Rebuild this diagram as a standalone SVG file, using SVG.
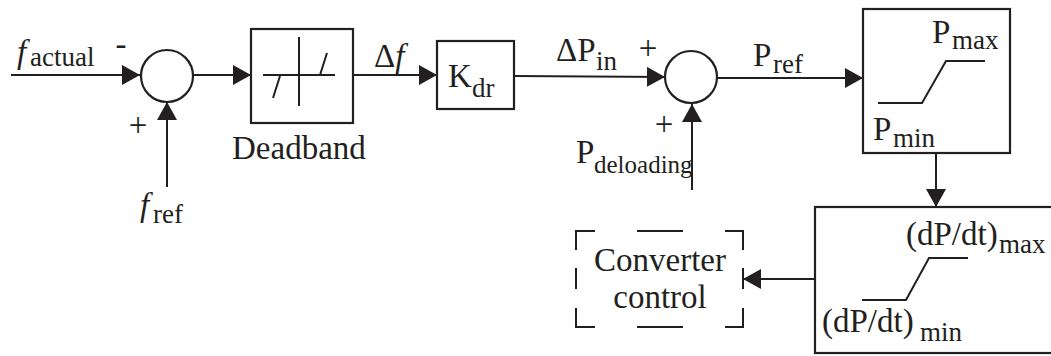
<svg xmlns="http://www.w3.org/2000/svg" width="1051" height="356" viewBox="0 0 1051 356">
<style>
.ln{stroke:#231f20;stroke-width:2;fill:none}
.bx{stroke:#231f20;stroke-width:2.2;fill:#fff}
.t{font-family:"Liberation Serif","Times New Roman",serif;font-size:33px;fill:#231f20}
.s{font-size:27px}
.i{font-style:italic}
</style>
<defs>
<marker id="ah" markerUnits="userSpaceOnUse" markerWidth="19" markerHeight="21" refX="18" refY="10" orient="auto">
<path d="M0,0 L18,10 L0,20 z" fill="#231f20"/>
</marker>
</defs>
<rect width="1051" height="356" fill="#fff"/>
<g id="connectors">
<line class="ln" x1="11" y1="75" x2="140" y2="75" marker-end="url(#ah)"/>
<line class="ln" x1="193" y1="75" x2="251" y2="75" marker-end="url(#ah)"/>
<line class="ln" x1="167" y1="187" x2="167" y2="102" marker-end="url(#ah)"/>
<line class="ln" x1="353" y1="75" x2="437" y2="75" marker-end="url(#ah)"/>
<line class="ln" x1="514" y1="76" x2="665" y2="77" marker-end="url(#ah)"/>
<line class="ln" x1="692" y1="190" x2="692" y2="104" marker-end="url(#ah)"/>
<line class="ln" x1="718" y1="78" x2="863" y2="78" marker-end="url(#ah)"/>
<line class="ln" x1="936" y1="153" x2="936" y2="207" marker-end="url(#ah)"/>
<line class="ln" x1="815" y1="279" x2="743" y2="279" marker-end="url(#ah)"/>
</g>
<g id="f_actual">
<text class="t" x="17" y="63"><tspan class="i">f</tspan></text>
<text class="t s" x="30" y="66">actual</text>
<text class="t" x="121" y="55" text-anchor="middle">-</text>
</g>
<g id="sum1">
<circle class="bx" cx="167" cy="76" r="26"/>
<text class="t" x="138" y="136" text-anchor="middle">+</text>
</g>
<g id="f_ref">
<text class="t" x="140" y="216"><tspan class="i">f</tspan></text>
<text class="t s" x="153" y="223">ref</text>
</g>
<g id="deadband">
<rect class="bx" x="251" y="29" width="102" height="94"/>
<line class="ln" x1="263" y1="75" x2="335" y2="75"/>
<line class="ln" x1="299" y1="37" x2="299" y2="106"/>
<line class="ln" x1="273" y1="98" x2="280" y2="76"/>
<line class="ln" x1="320" y1="75" x2="327" y2="53"/>
<text class="t" x="232" y="159">Deadband</text>
</g>
<g id="delta_f">
<text class="t" x="374" y="67">Δ<tspan class="i">f</tspan></text>
</g>
<g id="kdr">
<rect class="bx" x="437" y="41" width="77" height="68"/>
<text class="t" x="448" y="87">K</text>
<text class="t s" x="472" y="97">dr</text>
</g>
<g id="delta_pin">
<text class="t" x="556" y="61">ΔP</text>
<text class="t s" x="596" y="70">in</text>
<text class="t" x="648" y="59" text-anchor="middle">+</text>
</g>
<g id="sum2">
<circle class="bx" cx="691" cy="77" r="26"/>
<text class="t" x="664" y="135" text-anchor="middle">+</text>
</g>
<g id="p_deloading">
<text class="t" x="576" y="163">P</text>
<text class="t" x="594" y="173" style="font-size:25px">deloading</text>
</g>
<g id="p_ref">
<text class="t" x="753" y="66">P</text>
<text class="t s" x="773" y="73">ref</text>
</g>
<g id="limiter">
<rect class="bx" x="863" y="9" width="147" height="144"/>
<polyline class="ln" points="878,103 922,103 946,61 985,61"/>
<text class="t" x="932" y="43">P</text>
<text class="t s" x="952" y="49">max</text>
<text class="t" x="873" y="140">P</text>
<text class="t s" x="893" y="147">min</text>
</g>
<g id="rate_limiter">
<rect class="bx" x="815" y="207" width="250" height="146"/>
<polyline class="ln" points="862,300 906,300 929,258 968,258"/>
<text class="t" x="906" y="245">(dP/dt)</text>
<text class="t s" x="999" y="253">max</text>
<text class="t" x="822" y="332">(dP/dt)</text>
<text class="t s" x="920" y="341">min</text>
</g>
<g id="converter_control">
<path class="ln" d="M576,250 V231 H595 M637,231 H683 M725,231 H743 V250 M743,268 V289 M743,308 V327 H725 M683,327 H637 M595,327 H576 V308 M576,289 V268"/>
<text class="t" x="660" y="271" text-anchor="middle">Converter</text>
<text class="t" x="660" y="308" text-anchor="middle">control</text>
</g>
</svg>
